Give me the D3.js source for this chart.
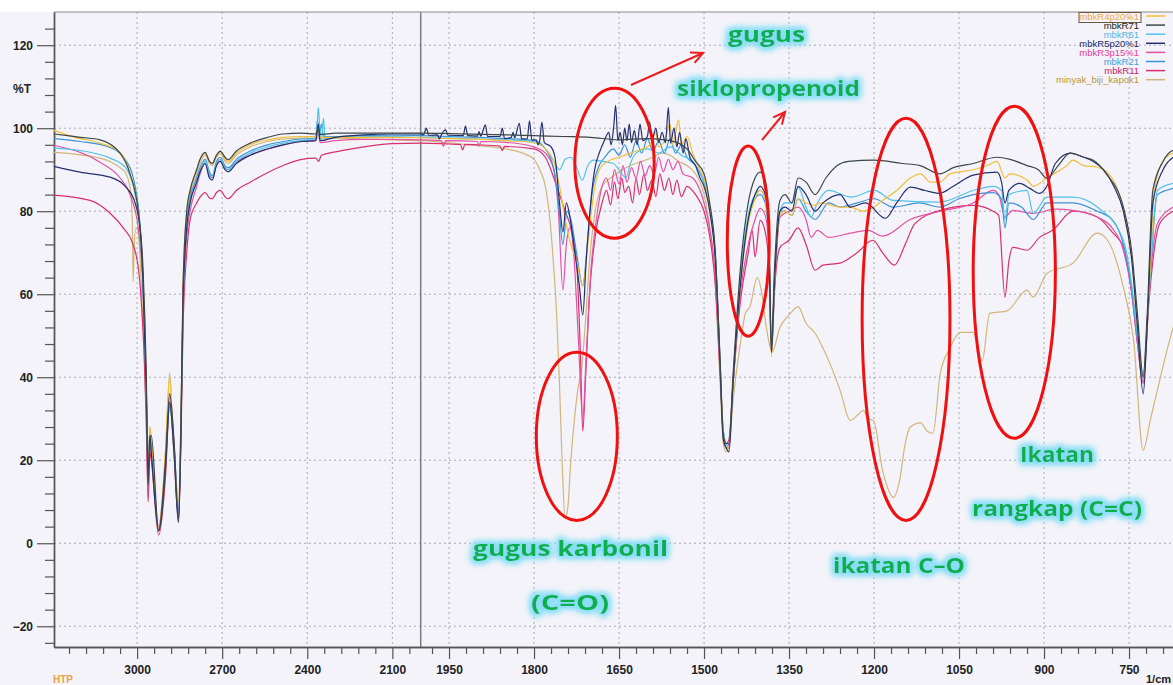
<!DOCTYPE html>
<html>
<head>
<meta charset="utf-8">
<script src="https://cdn.jsdelivr.net/npm/d3@7"></script>
<style>
  body { margin: 0; background: #f3f3f9; }
  svg { display: block; font-family: "Liberation Sans", Arial, sans-serif; }
</style>
</head>
<body>
<svg id="chart" width="1173" height="685"></svg>
<script>
// ---- spectra: [wavenumber 1/cm, %T] ----
var mbkR4p20 = [[3293,99.5],[3219,97.8],[3131,96.4],[3060,94.2],[3025,89],[2996,80],[2979,64],[2968,40],[2961,16],[2955,28],[2950,25],[2924,4],[2900,22],[2885,40],[2878,32],[2870,22],[2854,10],[2845,32],[2838,62],[2825,80],[2813,85],[2790,90],[2778,92.5],[2760,94],[2745,92],[2735,91.5],[2720,93.5],[2707,94.5],[2690,92.5],[2679,92],[2650,94],[2601,96],[2540,97.2],[2485,97.8],[2420,98],[2370,98],[2361,99.5],[2355,97.8],[2300,97.8],[2200,97.8],[2100,97.8],[2000,97.7],[1950,97.5],[1900,97.3],[1850,97],[1800,96.5],[1780,95],[1765,92],[1755,86],[1745,78],[1735,72],[1725,68],[1714,62],[1705,72],[1695,84],[1685,90],[1670,92],[1650,93],[1630,94],[1610,95],[1595,96],[1585,99],[1580,95.5],[1570,97],[1560,101],[1556,96],[1550,99],[1545,102],[1540,96],[1530,98],[1520,94],[1507,90],[1500,88],[1490,81],[1480,69],[1472,45],[1466,26],[1461,23],[1456,23],[1449,38],[1436,62],[1422,77],[1410,83],[1401,85],[1392,83],[1386,75],[1381,45],[1376,62],[1366,79],[1357,80],[1345,79],[1334,83],[1320,82],[1304,81.4],[1295,82],[1260,81],[1242,81],[1220,80],[1200,81],[1185,82.6],[1160,85],[1136,88],[1118,89],[1100,87],[1084,87],[1066,89],[1025,90],[1000,91],[983,92],[969,88],[960,89],[930,87.5],[919,86],[895,88],[860,91],[849,92.3],[830,91],[806,90.6],[780,88],[760,80],[745,68],[735,52],[725,40],[715,60],[705,85],[690,92],[672,94],[650,94.5]];

var mbkR71 = [[3293,98.6],[3200,97.8],[3130,97.2],[3060,94],[3025,89],[2996,80],[2979,66],[2968,42],[2961,14],[2955,24],[2950,26],[2924,3],[2900,20],[2885,36],[2870,25],[2854,6],[2845,30],[2838,62],[2825,80],[2813,85],[2790,90],[2778,92.5],[2760,94.2],[2745,92],[2735,91.5],[2720,93.5],[2707,94.5],[2690,93],[2679,92.4],[2650,94.5],[2601,96.4],[2540,97.8],[2485,98.6],[2420,98.8],[2370,98.6],[2361,100],[2355,98.5],[2300,98.8],[2200,98.8],[2100,98.8],[2000,98.8],[1950,98.7],[1850,98.4],[1800,98.2],[1750,98],[1700,97.8],[1650,97.2],[1600,97.5],[1560,97],[1530,95],[1515,92],[1500,89],[1490,82],[1480,70],[1472,45],[1466,26],[1461,24],[1456,24],[1449,40],[1436,66],[1422,82],[1410,88],[1401,89.4],[1392,87.5],[1386,78],[1381,47],[1376,65],[1366,82.6],[1357,84],[1345,82],[1334,88],[1320,87],[1304,84],[1285,88],[1265,91],[1245,92],[1200,92.3],[1150,91.5],[1119,91],[1084,89],[1060,90.5],[1025,91.5],[983,93],[960,92.5],[930,91],[910,90],[895,88],[875,91],[854,94],[830,93],[813,92.3],[790,89],[760,81],[745,70],[735,55],[725,40],[718,55],[708,85],[690,92],[672,94.7],[650,95]];

var mbkR61 = [[3293,95.2],[3166,94.2],[3095,92.8],[3042,90.6],[3007,84],[2990,76],[2979,62],[2968,38],[2961,18],[2955,27],[2950,24],[2924,4],[2900,20],[2885,33],[2870,24],[2854,8],[2845,30],[2838,58],[2825,76],[2813,82],[2790,87],[2778,90],[2760,92],[2745,89],[2735,88],[2720,91.5],[2707,92.5],[2690,90.5],[2679,90],[2650,92],[2601,94],[2540,95.5],[2485,96.4],[2420,97],[2375,97.2],[2365,101],[2361,105],[2356,100],[2350,97],[2343,102.4],[2337,97.5],[2300,97.8],[2200,98],[2100,98],[2000,97.8],[1950,97.6],[1900,97.4],[1850,97.2],[1800,96.8],[1780,95],[1765,92],[1755,90],[1745,92.5],[1735,93],[1725,90.6],[1715,87.5],[1705,91],[1695,92.3],[1680,92],[1660,91.5],[1645,89],[1638,88],[1630,91.5],[1620,94],[1600,95],[1580,94],[1560,95.5],[1540,93.5],[1520,92],[1507,89],[1500,87],[1490,81],[1480,69],[1472,45],[1466,27],[1461,24],[1456,23],[1449,39],[1436,64],[1422,79],[1410,84],[1401,85],[1392,83],[1386,75],[1381,46],[1376,62],[1366,80],[1357,82],[1345,82],[1334,85.8],[1320,81],[1311,78.6],[1300,82],[1280,85],[1240,83.4],[1200,85],[1166,82.6],[1084,82.2],[1025,85],[990,86],[975,85],[969,78],[962,84],[930,85],[919,79.5],[895,83.4],[849,83.4],[806,81],[760,73],[745,62],[735,50],[725,41],[715,60],[700,85],[672,86.7],[650,87]];

var mbkR5p20 = [[3293,90.8],[3201,89.4],[3095,88.2],[3042,86],[3010,82.6],[2990,76],[2979,62],[2968,38],[2961,16],[2955,26],[2950,22],[2924,3],[2900,18],[2885,34],[2870,22],[2854,5],[2845,28],[2838,58],[2825,76],[2813,82],[2790,87],[2778,89.5],[2760,91.5],[2745,88],[2735,87.5],[2720,91],[2707,92],[2690,90],[2679,89.5],[2650,91.5],[2601,93.5],[2540,95],[2485,96],[2420,96.8],[2370,97],[2361,101],[2355,97],[2300,97.8],[2200,98.4],[2100,98.6],[2000,98.6],[1995,98.4],[1990,100],[1986,98.3],[1970,98.4],[1967,97.4],[1964,98.3],[1956,99.6],[1952,98.3],[1925,98.2],[1921,100.5],[1917,98.2],[1900,98.1],[1897,99.2],[1894,98.1],[1886,100.8],[1882,98],[1860,98],[1856,100],[1852,97.5],[1840,97.8],[1837,99],[1834,97.7],[1826,101.2],[1822,97.5],[1812,97.4],[1808,101.8],[1804,97.2],[1796,97.2],[1793,96],[1790,97],[1786,101.5],[1782,96.6],[1770,95.5],[1763,93],[1755,82],[1749,75],[1743,82],[1736,78],[1728,70],[1720,62],[1714,55],[1708,68],[1700,82],[1693,90],[1685,94],[1676,97],[1668,99],[1664,96],[1659,101],[1656,105.5],[1652,97],[1648,99],[1644,96],[1640,100],[1636,97],[1632,101],[1628,96.5],[1623,99.5],[1618,96],[1613,101],[1608,97],[1600,98],[1596,101.5],[1592,97],[1585,100],[1580,96.5],[1574,99],[1568,96.5],[1563,105],[1559,96.4],[1553,100],[1548,95.5],[1543,99],[1537,94],[1532,97.5],[1525,93],[1515,91],[1507,88],[1500,86],[1490,80],[1480,68],[1472,44],[1466,25],[1461,23],[1456,22],[1449,38],[1436,62],[1422,78],[1410,84],[1401,86],[1392,84],[1386,76],[1381,46],[1376,62],[1366,80],[1357,81],[1345,80],[1334,86],[1320,84],[1304,80],[1290,82],[1260,84],[1242,81],[1215,82],[1180,78.3],[1160,82],[1136,85.8],[1110,85],[1084,84.3],[1060,86],[1025,88.7],[983,89.4],[975,87],[969,82],[962,85],[943,86.7],[925,85.5],[908,84.3],[895,86],[880,91.5],[854,94],[830,93],[813,92],[795,90],[776,85.8],[760,80],[745,68],[735,52],[725,36],[718,52],[708,82],[690,90],[672,93],[650,94]];

var mbkR3p15 = [[3293,95.9],[3131,91.8],[3060,88],[3025,84],[2996,76],[2979,62],[2968,36],[2961,12],[2955,24],[2950,22],[2924,3],[2900,18],[2885,36],[2870,24],[2854,6],[2845,28],[2838,56],[2825,74],[2813,80],[2790,86],[2778,89],[2760,91.5],[2745,88.5],[2735,88],[2720,91.5],[2707,92.5],[2690,90.5],[2679,90],[2650,92],[2601,93.5],[2540,95],[2485,96],[2420,96.8],[2370,97],[2361,100],[2355,96.5],[2300,97],[2200,97.3],[2100,97.3],[2000,97.2],[1964,97],[1960,95.6],[1956,97],[1900,96.8],[1897,95.7],[1894,96.8],[1850,96.6],[1800,95.5],[1780,94],[1765,90],[1757,80],[1749,61],[1743,72],[1737,76],[1730,70],[1722,50],[1714,30],[1708,45],[1700,65],[1690,78],[1680,86],[1672,88],[1665,85],[1658,90],[1650,86.5],[1643,91],[1636,87],[1628,90.5],[1620,88],[1612,92],[1604,88.5],[1596,91],[1588,89],[1580,93],[1572,89.5],[1563,92.5],[1555,90],[1546,92],[1537,89],[1520,88],[1507,85],[1500,82],[1490,76],[1480,64],[1472,42],[1466,26],[1461,23],[1456,24],[1449,38],[1436,60],[1422,72],[1410,78],[1401,80.7],[1392,79],[1386,72],[1381,46],[1376,60],[1366,78.6],[1350,80],[1334,81],[1320,78],[1311,73.7],[1300,75.4],[1280,73.7],[1242,74.7],[1210,75.4],[1185,74],[1136,78],[1083,80],[1025,82],[990,85],[980,84],[969,78.6],[955,80.2],[919,79.5],[880,80.5],[849,80.2],[806,78.6],[780,76],[760,70.6],[745,60],[735,48],[725,39],[715,60],[700,77],[672,81],[650,82]];

var mbkR21 = [[3293,97.5],[3200,96.8],[3100,95.5],[3042,92.5],[3007,86],[2990,77],[2979,63],[2968,38],[2961,17],[2955,26],[2950,23],[2924,4],[2900,19],[2885,33],[2870,23],[2854,7],[2845,29],[2838,58],[2825,77],[2813,83],[2790,88],[2778,90.5],[2760,92.5],[2745,89.5],[2735,88.5],[2720,92],[2707,93],[2690,91],[2679,90.5],[2650,92.5],[2601,94.5],[2540,96],[2485,96.8],[2420,97.4],[2370,97.5],[2364,102],[2358,98],[2350,101],[2343,98],[2300,98],[2200,98.2],[2100,98.3],[2000,98.2],[1950,98],[1900,97.8],[1850,97.5],[1800,97],[1780,95],[1765,90],[1757,82],[1749,72],[1742,80],[1735,78],[1725,70],[1714,62],[1706,72],[1698,84],[1688,90],[1675,93],[1660,95],[1650,93.5],[1640,96],[1630,93],[1620,97],[1610,94],[1600,97.5],[1590,94.5],[1580,97],[1570,94],[1560,97.5],[1550,94],[1540,96],[1530,93],[1515,91],[1500,87],[1490,81],[1480,69],[1472,45],[1466,26],[1461,23],[1456,23],[1449,38],[1436,63],[1422,78],[1410,83],[1401,84],[1392,82],[1386,74],[1381,46],[1376,62],[1366,80],[1357,80],[1345,79],[1334,83],[1320,80],[1304,78],[1280,82],[1260,81],[1230,82],[1200,83],[1166,81],[1120,82],[1084,81],[1050,83],[1025,84],[990,84.5],[975,83],[969,76],[962,82],[940,81],[919,78],[895,82],[849,82],[806,80],[780,78],[760,72],[745,61],[735,49],[725,40],[715,60],[700,84],[672,85.5],[650,86]];

var mbkR11 = [[3293,83.9],[3166,82.6],[3095,79.5],[3042,75.4],[3020,73],[2996,66.5],[2985,58],[2975,45],[2968,30],[2961,10],[2955,22],[2950,20],[2924,2],[2900,16],[2885,34],[2870,22],[2854,5],[2845,26],[2838,52],[2825,70],[2813,78],[2790,82],[2778,83.4],[2760,84.5],[2745,83.2],[2735,83],[2720,84.5],[2707,85],[2690,83.5],[2679,83],[2650,85],[2601,87],[2485,91],[2420,92.5],[2370,92.8],[2360,92],[2350,93.5],[2300,94.3],[2200,95.5],[2100,96.3],[2000,96.4],[1950,96.2],[1930,96.1],[1926,94.8],[1922,96.1],[1900,96],[1860,95.7],[1856,94.6],[1852,95.6],[1800,95],[1780,93],[1765,88],[1755,84],[1745,80],[1735,76],[1725,68],[1718,45],[1714,27],[1709,40],[1702,60],[1692,74],[1680,82],[1672,85],[1665,81.5],[1658,87],[1652,83],[1645,88],[1640,84.5],[1633,86],[1626,82],[1620,88],[1614,84],[1606,89],[1600,85],[1592,87.5],[1585,83.5],[1578,89],[1570,85],[1562,88],[1555,84],[1548,87.5],[1540,83.5],[1530,86],[1515,84],[1500,80],[1490,74],[1480,62],[1472,42],[1466,27],[1461,24],[1456,25],[1449,38],[1436,58],[1422,70],[1415,75.4],[1410,69],[1401,77.8],[1392,75],[1386,68],[1381,46],[1376,60],[1366,71.3],[1350,73],[1334,76],[1320,72],[1304,65.8],[1290,67],[1260,67.5],[1230,70],[1202,73],[1185,70],[1164,67],[1145,72],[1128,77],[1083,80.2],[1025,81.4],[990,80],[980,79],[969,59.3],[962,68],[955,71.3],[930,70.6],[908,73.7],[885,75.4],[849,80],[806,78.6],[780,75],[760,71.3],[745,60],[735,48],[725,38.5],[715,58],[696,77],[672,80],[650,81]];

var minyakBijiKapok = [[3293,94.2],[3131,92.8],[3060,90.5],[3042,89.4],[3025,85.8],[3017,78],[3014,63],[3010,72],[3004,76],[2996,75],[2985,62],[2975,46],[2968,32],[2961,14],[2955,28],[2950,24],[2924,3],[2900,22],[2885,41],[2878,33],[2870,24],[2854,10],[2845,32],[2838,60],[2825,78],[2813,84],[2790,89],[2778,91.5],[2760,93.5],[2745,91.5],[2735,91],[2720,93],[2707,94],[2690,92],[2679,91.5],[2650,93.5],[2601,95.5],[2540,96.8],[2485,97.4],[2420,97.6],[2300,97.6],[2200,97.4],[2100,97.2],[2000,97],[1950,96.5],[1900,95.8],[1850,95],[1820,94],[1800,92.5],[1790,90],[1780,86],[1772,78],[1766,68],[1760,55],[1755,38],[1750,18],[1745,6],[1740,9],[1736,18],[1730,28],[1722,37.6],[1716,42],[1710,52],[1702,68],[1692,80],[1680,86],[1665,88],[1650,89.5],[1630,91],[1610,92],[1590,93],[1575,94],[1560,93.5],[1545,92],[1530,91],[1515,89],[1507,87],[1500,84],[1490,76],[1480,62],[1472,40],[1466,24],[1461,22],[1456,23],[1449,34],[1436,48],[1427,55.4],[1419,57],[1406,64],[1400,61.7],[1390,52],[1380,46],[1366,52],[1350,55],[1334,57],[1320,53],[1304,50.6],[1290,47],[1280,44],[1260,36.9],[1242,29.6],[1228,31],[1219,32],[1210,30],[1201,29.6],[1185,17.6],[1175,13],[1166,11],[1155,15],[1145,24],[1136,28],[1118,29],[1106,27],[1096,26.5],[1083,41],[1066,47],[1048,50.8],[1025,50.8],[1009,44],[996,55.4],[965,56],[930,61],[919,59.3],[895,65],[849,67.5],[806,74.7],[788,73],[760,61.7],[742,49],[725,22.4],[712,30],[700,36.9],[672,52],[650,60]];

var legendNames = ["mbkR4p20%1", "mbkR71", "mbkR61", "mbkR5p20%1", "mbkR3p15%1", "mbkR21", "mbkR11", "minyak_biji_kapok1"];
var legendData = [mbkR4p20, mbkR71, mbkR61, mbkR5p20, mbkR3p15, mbkR21, mbkR11, minyakBijiKapok];
var lineColors = ["#f2bf3c", "#3c4848", "#52c2ea", "#24306e", "#e452a4", "#3b93d6", "#d8306c", "#d2b679"];
var textColors = ["#f0a840", "#222222", "#52b4e4", "#1c2a66", "#e0409a", "#3a9ee0", "#cc2068", "#b89a30"];
var drawOrder = [7, 6, 4, 5, 2, 0, 3, 1];

var xMajor = [3000, 2700, 2400, 2100, 1950, 1800, 1650, 1500, 1350, 1200, 1050, 900, 750];
var yMajor = [-20, 0, 20, 40, 60, 80, 100, 120];

// ---- layout ----
var svg = d3.select("#chart");
var plotLeft = 54, plotRight = 1173, plotTop = 12, plotBottom = 647;

var x = d3.scaleLinear().domain([3293, 2000, 650]).range([plotLeft, 420.7, 1185.7]);
var y = d3.scaleLinear().domain([-25, 128]).range([plotBottom, plotTop]);

// minor ticks: every 60 above 2000, every 30 below
var xMinor = d3.range(3240, 2000, -60).concat(d3.range(1980, 640, -30))
  .filter(function(v) { return xMajor.indexOf(v) < 0; });
var yMinor = d3.range(-24, 125, 4).filter(function(v) { return yMajor.indexOf(v) < 0; });

svg.append("rect").attr("width", 1173).attr("height", plotTop).attr("fill", "#ffffff");

var defs = svg.append("defs");
defs.append("clipPath").attr("id", "plot")
  .append("rect").attr("x", plotLeft).attr("y", plotTop)
  .attr("width", plotRight - plotLeft).attr("height", plotBottom - plotTop);

var glow = defs.append("filter").attr("id", "glow")
  .attr("x", "-20%").attr("y", "-50%").attr("width", "140%").attr("height", "200%");
glow.append("feMorphology").attr("in", "SourceAlpha").attr("operator", "dilate").attr("radius", 2).attr("result", "d");
glow.append("feGaussianBlur").attr("in", "d").attr("stdDeviation", 3).attr("result", "b");
glow.append("feFlood").attr("flood-color", "#86def6");
glow.append("feComposite").attr("in2", "b").attr("operator", "in").attr("result", "g");
var merge = glow.append("feMerge");
merge.append("feMergeNode").attr("in", "g");
merge.append("feMergeNode").attr("in", "g");
merge.append("feMergeNode").attr("in", "SourceGraphic");

// grid
var grid = svg.append("g").attr("stroke", "#a9a9b4").attr("stroke-width", 1).attr("stroke-dasharray", "2,3");
grid.selectAll("line.gx").data(xMajor).enter().append("line")
  .attr("x1", function(d) { return x(d); }).attr("x2", function(d) { return x(d); })
  .attr("y1", plotTop).attr("y2", plotBottom);
grid.selectAll("line.gy").data(yMajor).enter().append("line")
  .attr("x1", plotLeft).attr("x2", plotRight)
  .attr("y1", function(d) { return y(d); }).attr("y2", function(d) { return y(d); });

// solid line at the 2000 scale change, and the top frame
svg.append("line").attr("x1", x(2000)).attr("x2", x(2000)).attr("y1", plotTop).attr("y2", plotBottom)
  .attr("stroke", "#7c7c84").attr("stroke-width", 1.5);
svg.append("line").attr("x1", plotLeft).attr("x2", plotRight).attr("y1", plotTop).attr("y2", plotTop)
  .attr("stroke", "#8a8a92").attr("stroke-width", 1.2);

// axes
function styleAxis(g) {
  g.select(".domain").attr("stroke", "#555").attr("stroke-width", 1.4);
  g.selectAll(".tick line").attr("stroke", "#555").attr("stroke-width", 1.2);
  g.selectAll(".tick text").attr("fill", "#222").attr("font-size", 12).attr("font-weight", "bold");
}
svg.append("g").attr("transform", "translate(0," + plotBottom + ")")
  .call(d3.axisBottom(x).tickValues(xMinor).tickSize(7).tickSizeOuter(0).tickFormat(""))
  .call(styleAxis);
svg.append("g").attr("transform", "translate(0," + plotBottom + ")")
  .call(d3.axisBottom(x).tickValues(xMajor).tickSize(12).tickSizeOuter(0).tickPadding(6).tickFormat(d3.format("d")))
  .call(styleAxis);
svg.append("g").attr("transform", "translate(" + plotLeft + ",0)")
  .call(d3.axisLeft(y).tickValues(yMinor).tickSize(9).tickSizeOuter(0).tickFormat(""))
  .call(styleAxis);
svg.append("g").attr("transform", "translate(" + plotLeft + ",0)")
  .call(d3.axisLeft(y).tickValues(yMajor).tickSize(17).tickSizeOuter(0).tickPadding(4).tickFormat(d3.format("d")))
  .call(styleAxis);

svg.append("text").attr("x", 13).attr("y", 93).attr("font-size", 12).attr("font-weight", "bold")
  .attr("fill", "#222").text("%T");
svg.append("text").attr("x", 1146).attr("y", 683).attr("font-size", 11).attr("font-weight", "bold")
  .attr("fill", "#222").text("1/cm");
svg.append("text").attr("x", 53).attr("y", 683).attr("font-size", 10).attr("font-weight", "bold")
  .attr("fill", "#eaa040").text("HTP");

// spectra
var line = d3.line()
  .x(function(d) { return x(d[0]); })
  .y(function(d) { return y(d[1]); })
  .curve(d3.curveMonotoneX);

var plot = svg.append("g").attr("clip-path", "url(#plot)");
drawOrder.forEach(function(i) {
  plot.append("path")
    .datum(legendData[i])
    .attr("d", line)
    .attr("fill", "none")
    .attr("stroke", lineColors[i])
    .attr("stroke-width", 1.2)
    .attr("stroke-linejoin", "round");
});

// legend
var legend = svg.append("g").attr("font-size", 9.5);
legendNames.forEach(function(name, i) {
  var ly = 19.5 + i * 9.1;
  legend.append("text").attr("x", 1139).attr("y", ly).attr("text-anchor", "end")
    .attr("fill", textColors[i]).text(name);
  legend.append("line").attr("x1", 1146).attr("x2", 1165).attr("y1", ly - 3.5).attr("y2", ly - 3.5)
    .attr("stroke", lineColors[i]).attr("stroke-width", 1.5);
});
legend.append("rect").attr("x", 1079).attr("y", 12.5).attr("width", 62).attr("height", 10)
  .attr("fill", "none").attr("stroke", "#6b5838").attr("stroke-width", 1);

// red ellipses, given by their wavenumber / %T bounds
var ellipses = [[1728, 1588, 109.6, 73.5], [1796, 1653, 46, 5.5], [1459, 1385, 95.7, 49.9],
                [1221, 1066, 102.4, 5.5], [1025, 880, 105.3, 25.3]];
svg.append("g").selectAll("ellipse").data(ellipses).enter().append("ellipse")
  .attr("cx", function(d) { return (x(d[0]) + x(d[1])) / 2; })
  .attr("cy", function(d) { return (y(d[2]) + y(d[3])) / 2; })
  .attr("rx", function(d) { return (x(d[1]) - x(d[0])) / 2; })
  .attr("ry", function(d) { return (y(d[3]) - y(d[2])) / 2; })
  .attr("fill", "none").attr("stroke", "#f01010").attr("stroke-width", 3);

// arrows
function arrow(x1, y1, x2, y2) {
  var a = Math.atan2(y2 - y1, x2 - x1), h = 13, s = 0.45;
  var g = svg.append("g").attr("stroke", "#ee1c1c").attr("stroke-width", 2).attr("fill", "none");
  g.append("line").attr("x1", x1).attr("y1", y1).attr("x2", x2).attr("y2", y2);
  g.append("polyline").attr("points", [
    [x2 - h * Math.cos(a - s), y2 - h * Math.sin(a - s)],
    [x2, y2],
    [x2 - h * Math.cos(a + s), y2 - h * Math.sin(a + s)]
  ].join(" "));
}
arrow(631, 85, 703, 53);
arrow(762, 140, 785, 112);

// annotation labels
var notes = [
  ["gugus", 728, 42, 77],
  ["siklopropenoid", 677, 96, 183],
  ["gugus karbonil", 473, 556, 195],
  ["(C=O)", 531, 610, 78],
  ["ikatan C\u2013O", 833, 573, 132],
  ["Ikatan", 1020, 462, 74],
  ["rangkap (C=C)", 972, 516, 170]
];
svg.append("g").selectAll("text").data(notes).enter().append("text")
  .attr("x", function(d) { return d[1]; })
  .attr("y", function(d) { return d[2]; })
  .attr("textLength", function(d) { return d[3]; })
  .attr("lengthAdjust", "spacingAndGlyphs")
  .attr("font-family", "'Open Sans', 'Noto Sans', sans-serif")
  .attr("font-weight", "bold").attr("font-size", 22)
  .attr("fill", "#0aae4e").attr("filter", "url(#glow)")
  .text(function(d) { return d[0]; });
</script>
</body>
</html>
